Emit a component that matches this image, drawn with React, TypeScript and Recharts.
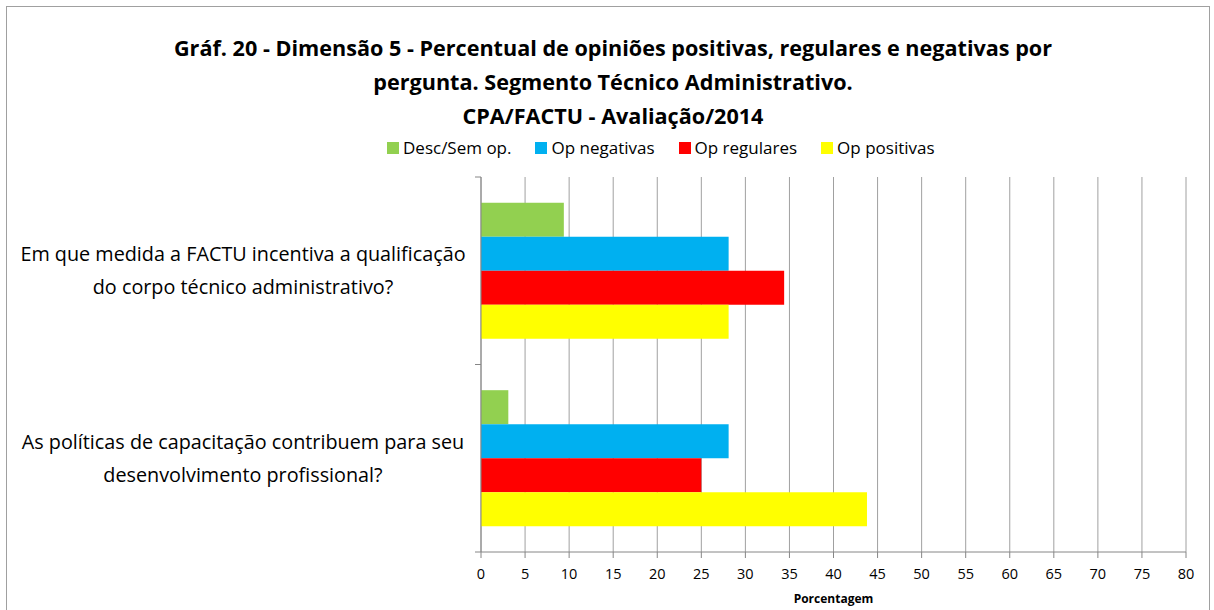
import { BarChart, Bar, XAxis, YAxis, CartesianGrid } from 'recharts'

const categories = [
	'Em que medida a FACTU incentiva a qualificação do corpo técnico administrativo?',
	'As políticas de capacitação contribuem para seu desenvolvimento profissional?',
]
const categoryLines = [
	['Em que medida a FACTU incentiva a qualificação', 'do corpo técnico administrativo?'],
	['As políticas de capacitação contribuem para seu', 'desenvolvimento profissional?'],
]
const descSemOp = [9.4, 3.1]
const opNegativas = [28.1, 28.1]
const opRegulares = [34.4, 25.0]
const opPositivas = [28.1, 43.8]
const xTicks = [0, 5, 10, 15, 20, 25, 30, 35, 40, 45, 50, 55, 60, 65, 70, 75, 80]

const series = [
	{ key: 'desc', name: 'Desc/Sem op.', color: '#92D050' },
	{ key: 'neg', name: 'Op negativas', color: '#00B0F0' },
	{ key: 'reg', name: 'Op regulares', color: '#FF0000' },
	{ key: 'pos', name: 'Op positivas', color: '#FFFF00' },
]

const data = categories.map((name, i) => ({
	name,
	desc: descSemOp[i],
	neg: opNegativas[i],
	reg: opRegulares[i],
	pos: opPositivas[i],
}))

const FONT = "'Open Sans', 'Noto Sans', sans-serif"
const BAND_HALF = 93.75

// etiqueta da categoria em duas linhas + marcas nas divisas das faixas
const CategoryTick = (props: any) => {
	const { y, payload, index } = props
	const lines = categoryLines[index] || [payload.value]
	return (
		<g>
			<line x1={475} x2={481} y1={y - BAND_HALF} y2={y - BAND_HALF} stroke="#868686" />
			<line x1={475} x2={481} y1={y + BAND_HALF} y2={y + BAND_HALF} stroke="#868686" />
			<text textAnchor="middle" fontSize={19.8} fill="#000" fontFamily={FONT}>
				<tspan x={243} y={y - 16.5} dy="0.35em">{lines[0]}</tspan>
				<tspan x={243} y={y + 16.5} dy="0.35em">{lines[1]}</tspan>
			</text>
		</g>
	)
}

const App = () => {
	return (
		<div style={{ position: 'absolute', left: 0, top: 0, width: 1214, height: 610, background: '#fff', fontFamily: FONT }}>
			<div style={{ position: 'absolute', left: 6, top: 6, width: 1202, height: 620, border: '1px solid #a0a0a0' }} />
			<div style={{ position: 'absolute', left: 0, width: 1226, top: 31, textAlign: 'center', fontWeight: 700, fontSize: 21.6, lineHeight: '34px', color: '#000' }}>
				<div>Gráf. 20 - Dimensão 5 - Percentual de opiniões positivas, regulares e negativas por</div>
				<div>pergunta. Segmento Técnico Administrativo.</div>
				<div>CPA/FACTU - Avaliação/2014</div>
			</div>
			<div style={{ position: 'absolute', left: 387, top: 136, display: 'flex', alignItems: 'center', fontSize: 17, color: '#000' }}>
				{series.map((s) => (
					<div key={s.key} style={{ display: 'flex', alignItems: 'center', marginRight: 24 }}>
						<span style={{ display: 'inline-block', width: 12, height: 12, background: s.color, marginRight: 4 }} />
						<span>{s.name}</span>
					</div>
				))}
			</div>
			<div style={{ position: 'absolute', left: 0, top: 0 }}>
				<BarChart
					width={1214}
					height={610}
					data={data}
					layout="vertical"
					margin={{ top: 177, right: 28, bottom: 28, left: 0 }}
					barCategoryGap="13.7%"
					barGap={0}
				>
					<CartesianGrid horizontal={false} vertical={true} stroke="#a0a0a0" />
					<XAxis
						type="number"
						domain={[0, 80]}
						ticks={xTicks}
						interval={0}
						height={30}
						axisLine={{ stroke: '#868686' }}
						tickLine={{ stroke: '#868686' }}
						tickSize={6}
						tick={{ fill: '#000', fontSize: 14.5, fontFamily: FONT, dy: 9 }}
					/>
					<YAxis
						type="category"
						dataKey="name"
						width={481}
						axisLine={{ stroke: '#868686' }}
						tickLine={false}
						tick={<CategoryTick />}
					/>
					{series.map((s) => (
						<Bar key={s.key} dataKey={s.key} name={s.name} fill={s.color} isAnimationActive={false} />
					))}
				</BarChart>
			</div>
			<div style={{ position: 'absolute', left: 481, width: 705, top: 590, textAlign: 'center', fontSize: 12, fontWeight: 700, color: '#000' }}>
				Porcentagem
			</div>
		</div>
	)
}

export default App
